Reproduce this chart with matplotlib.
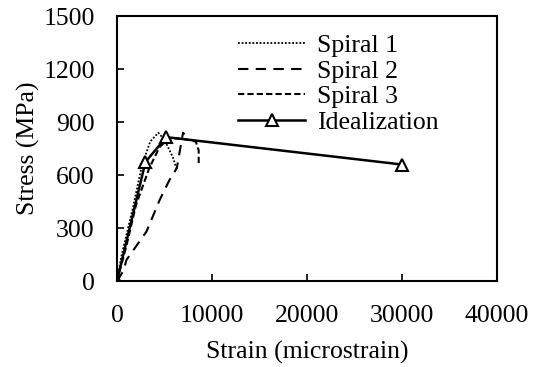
import matplotlib.pyplot as plt

# stress-strain data
spiral1_x = [0, 500, 1700, 2600, 3500, 4350, 5000, 5900, 6300]
spiral1_y = [0, 150, 420, 650, 790, 840, 800, 700, 630]

spiral2_x = [0, 700, 1000, 3100, 4500, 5500, 6300, 6950, 7100]
spiral2_y = [0, 60, 120, 280, 460, 570, 640, 840, 830]

spiral3_x = [0, 1000, 2000, 3400, 4500, 5500, 7000, 8300, 8600, 8600]
spiral3_y = [0, 200, 430, 640, 760, 810, 805, 790, 740, 660]

ideal_x = [0, 3000, 5200, 30000]
ideal_y = [0, 675, 815, 660]

x_ticks = [0, 10000, 20000, 30000, 40000]
y_ticks = [0, 300, 600, 900, 1200, 1500]

plt.rcParams['font.family'] = ['Liberation Serif', 'DejaVu Serif']
plt.rcParams['font.size'] = 18.5

fig = plt.figure(figsize=(5.34, 3.67), dpi=100)
ax = fig.add_axes([0.219, 0.234, 0.712, 0.722])

ax.plot(spiral1_x, spiral1_y, color='black', linestyle=(0, (1, 1)), linewidth=1.3, label='Spiral 1')
ax.plot(spiral2_x, spiral2_y, color='black', linestyle=(0, (5, 3.5)), linewidth=1.5, label='Spiral 2')
ax.plot(spiral3_x, spiral3_y, color='black', linestyle=(0, (3, 1.5)), linewidth=1.5, label='Spiral 3')
ax.plot(ideal_x, ideal_y, color='black', linewidth=1.8, marker='^', markersize=9,
        markerfacecolor='white', markeredgecolor='black', markeredgewidth=1.5, label='Idealization')

ax.set_xlim(0, 40000)
ax.set_ylim(0, 1500)
ax.set_xticks(x_ticks)
ax.set_yticks(y_ticks)
ax.tick_params(direction='in', length=5, width=1.2)
ax.tick_params(axis='x', pad=17)
ax.tick_params(axis='y', pad=16)
for s in ax.spines.values():
    s.set_linewidth(1.5)
ax.set_xlabel('Strain (microstrain)', labelpad=10)
ax.set_ylabel('Stress (MPa)', labelpad=2)

leg = ax.legend(loc='upper left', bbox_to_anchor=(0.272, 1.0), frameon=False,
                handlelength=2.6, handletextpad=0.45, labelspacing=0.1, borderaxespad=0.3)

fig.savefig('out.png', dpi=100)
